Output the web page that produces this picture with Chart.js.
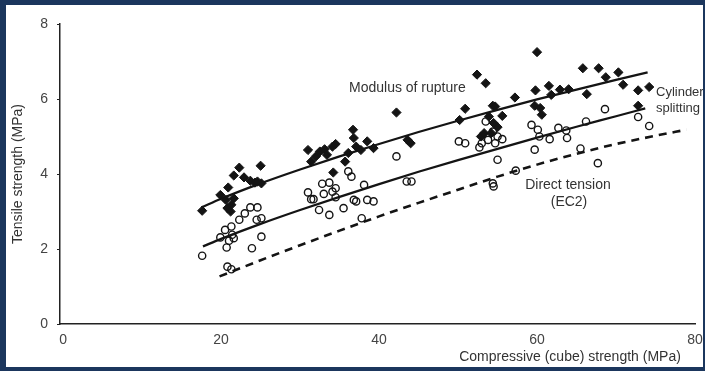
<!DOCTYPE html>
<html>
<head>
<meta charset="utf-8">
<script src="https://cdn.jsdelivr.net/npm/chart.js@4"></script>
<style>
  html, body { margin: 0; padding: 0; background: #1b365d; }
  canvas { display: block; }
</style>
</head>
<body>
<canvas id="strengthChart" width="705" height="371"></canvas>
<script>
// modulus of rupture (filled diamonds)
const morX = [17.6, 19.9, 20.9, 20.6, 20.8, 21.2, 21.6, 21.3, 21.6, 22.3, 22.9, 23.7, 24.3, 25.0, 25.1, 24.6,
    31.0, 31.4, 32.0, 32.5, 33.1, 33.4, 34.1, 34.5, 34.2, 35.7, 36.1, 36.7, 36.8, 37.1, 37.7, 38.5, 39.3,
    42.2, 43.6, 44.0, 50.2, 50.9, 52.4, 53.5, 52.9, 53.3, 53.9, 54.4, 54.7, 54.2, 55.0, 55.6, 54.5, 57.2,
    60.0, 59.8, 59.7, 60.4, 60.6, 61.5, 61.8, 62.9, 64.0, 65.8, 66.3, 67.8, 68.7, 70.3, 70.9, 72.8, 72.8, 74.2];
const morY = [3.02, 3.44, 3.64, 3.31, 3.09, 3.00, 3.35, 3.18, 3.96, 4.17, 3.91, 3.82, 3.77, 4.22, 3.75, 3.80,
    4.64, 4.33, 4.47, 4.60, 4.66, 4.51, 4.73, 4.80, 4.04, 4.33, 4.56, 5.18, 4.96, 4.73, 4.64, 4.87, 4.69,
    5.64, 4.91, 4.82, 5.44, 5.74, 6.65, 6.42, 5.00, 5.09, 5.53, 5.82, 5.80, 5.09, 5.25, 5.55, 5.36, 6.04,
    7.25, 6.23, 5.82, 5.76, 5.58, 6.35, 6.11, 6.25, 6.26, 6.82, 6.13, 6.82, 6.58, 6.71, 6.38, 6.23, 5.82, 6.32];

// cylinder splitting (open circles)
const cylX = [17.6, 19.9, 20.5, 20.7, 20.8, 21.3, 21.0, 21.4, 21.3, 21.6, 22.3, 23.0, 23.7, 24.6, 24.5, 25.1, 25.1, 23.9,
    31.0, 31.4, 31.7, 32.4, 32.8, 33.0, 33.7, 33.7, 34.1, 34.5, 34.5, 35.5, 36.1, 36.5, 36.8, 37.1, 37.8, 38.1, 38.5, 39.3,
    42.2, 43.5, 44.1, 50.1, 50.9, 52.7, 53.5, 53.0, 53.8, 54.4, 54.5, 54.7, 55.0, 55.6, 55.0, 54.4, 57.3,
    59.3, 60.1, 60.3, 59.7, 61.6, 62.7, 63.7, 63.8, 65.5, 66.2, 67.7, 68.6, 72.8, 74.2];
const cylY = [1.82, 2.31, 2.51, 2.04, 1.53, 1.46, 2.22, 2.38, 2.60, 2.29, 2.78, 2.95, 3.11, 3.11, 2.78, 2.82, 2.33, 2.02,
    3.51, 3.33, 3.33, 3.04, 3.74, 3.47, 3.77, 2.91, 3.53, 3.62, 3.38, 3.09, 4.07, 3.93, 3.31, 3.27, 2.82, 3.71, 3.31, 3.27,
    4.47, 3.80, 3.80, 4.87, 4.82, 4.71, 5.40, 4.82, 4.91, 3.75, 3.67, 4.82, 5.00, 4.93, 4.38, 5.13, 4.09,
    5.31, 5.18, 5.00, 4.65, 4.93, 5.23, 5.16, 4.96, 4.68, 5.40, 4.29, 5.73, 5.52, 5.28];

// trend lines
const morFitX = [17.5, 20, 25, 30, 35, 40, 45, 50, 55, 60, 65, 70, 74];
const morFitY = [3.11, 3.34, 3.75, 4.12, 4.47, 4.80, 5.12, 5.42, 5.71, 5.99, 6.25, 6.51, 6.71];
const cylFitX = [17.7, 20, 25, 30, 35, 40, 45, 50, 55, 60, 65, 70, 73.7];
const cylFitY = [2.07, 2.27, 2.67, 3.04, 3.39, 3.73, 4.06, 4.37, 4.67, 4.97, 5.26, 5.54, 5.75];
const ec2X = [19.8, 25, 30, 35, 40, 45, 50, 55, 60, 65, 70, 75, 78.9];
const ec2Y = [1.27, 1.70, 2.10, 2.49, 2.87, 3.23, 3.58, 3.93, 4.25, 4.54, 4.80, 5.02, 5.18];

const xTicks = [0, 20, 40, 60, 80];
const yTicks = [0, 2, 4, 6, 8];

function pts(xs, ys) {
    return xs.map((x, i) => ({ x: x, y: ys[i] }));
}

const FONT = '"Liberation Sans", Arial, sans-serif';
const INK = '#141414';
const NAVY = '#1b365d';

const framePlugin = {
    id: 'frame',
    beforeDraw(chart) {
        const ctx = chart.ctx;
        ctx.save();
        ctx.fillStyle = NAVY;
        ctx.fillRect(0, 0, chart.width, chart.height);
        ctx.fillStyle = '#ffffff';
        ctx.fillRect(6, 5, 697, 362);
        ctx.restore();
    },
    afterDraw(chart) {
        const ctx = chart.ctx;
        ctx.save();
        ctx.fillStyle = '#333';
        ctx.font = '14px ' + FONT;
        ctx.textBaseline = 'middle';
        ctx.textAlign = 'left';
        ctx.fillText('Modulus of rupture', 349, 88);
        ctx.font = '13px ' + FONT;
        ctx.fillText('Cylinder', 656, 92);
        ctx.fillText('splitting', 656, 108);
        ctx.font = '14px ' + FONT;
        ctx.textAlign = 'center';
        ctx.fillText('Direct tension', 568, 185);
        ctx.fillText('(EC2)', 569, 202);
        ctx.fillText('Compressive (cube) strength (MPa)', 570, 357);
        // border on top so text is clipped like the original
        ctx.fillStyle = NAVY;
        ctx.fillRect(703, 0, 2, chart.height);
        ctx.restore();
    }
};

const ctx = document.getElementById('strengthChart').getContext('2d');
new Chart(ctx, {
    type: 'scatter',
    data: {
        datasets: [
            {
                label: 'Modulus of rupture',
                data: pts(morX, morY),
                pointStyle: 'rectRot',
                pointRadius: 4.6,
                backgroundColor: INK,
                borderColor: INK,
                borderWidth: 1,
                order: 1
            },
            {
                label: 'Cylinder splitting',
                data: pts(cylX, cylY),
                pointStyle: 'circle',
                pointRadius: 3.6,
                backgroundColor: 'rgba(255,255,255,0)',
                borderColor: INK,
                borderWidth: 1.4,
                order: 2
            },
            {
                label: 'Modulus of rupture fit',
                data: pts(morFitX, morFitY),
                showLine: true,
                pointRadius: 0,
                borderColor: INK,
                borderWidth: 2.3,
                cubicInterpolationMode: 'monotone',
                order: 3
            },
            {
                label: 'Cylinder splitting fit',
                data: pts(cylFitX, cylFitY),
                showLine: true,
                pointRadius: 0,
                borderColor: INK,
                borderWidth: 2.3,
                cubicInterpolationMode: 'monotone',
                order: 4
            },
            {
                label: 'Direct tension (EC2)',
                data: pts(ec2X, ec2Y),
                showLine: true,
                pointRadius: 0,
                borderColor: INK,
                borderWidth: 2.6,
                borderDash: [8, 6],
                cubicInterpolationMode: 'monotone',
                order: 5
            }
        ]
    },
    options: {
        responsive: false,
        animation: false,
        devicePixelRatio: 1,
        layout: { padding: { top: 24, right: 10, left: 0, bottom: 0 } },
        plugins: {
            legend: { display: false },
            tooltip: { enabled: false }
        },
        scales: {
            x: {
                type: 'linear',
                min: -0.4,
                max: 80,
                afterBuildTicks: (scale) => { scale.ticks = xTicks.map(v => ({ value: v })); },
                afterFit: (scale) => { scale.height = 47; },
                grid: { display: false },
                border: { display: true, color: '#222', width: 1.5 },
                ticks: { color: '#444', font: { family: FONT, size: 14 }, padding: 0, maxRotation: 0 },
                title: { display: false }
            },
            y: {
                min: 0,
                max: 8,
                afterBuildTicks: (scale) => { scale.ticks = yTicks.map(v => ({ value: v })); },
                afterFit: (scale) => { scale.width = 60; },
                grid: { display: true, drawOnChartArea: false, tickLength: 3, color: '#222' },
                border: { display: true, color: '#222', width: 1.5 },
                ticks: { color: '#444', font: { family: FONT, size: 14 }, padding: 9 },
                title: {
                    display: true,
                    text: 'Tensile strength (MPa)',
                    color: '#333',
                    font: { family: FONT, size: 14 },
                    padding: { top: 10, bottom: 0 }
                }
            }
        }
    },
    plugins: [framePlugin]
});
</script>
</body>
</html>
